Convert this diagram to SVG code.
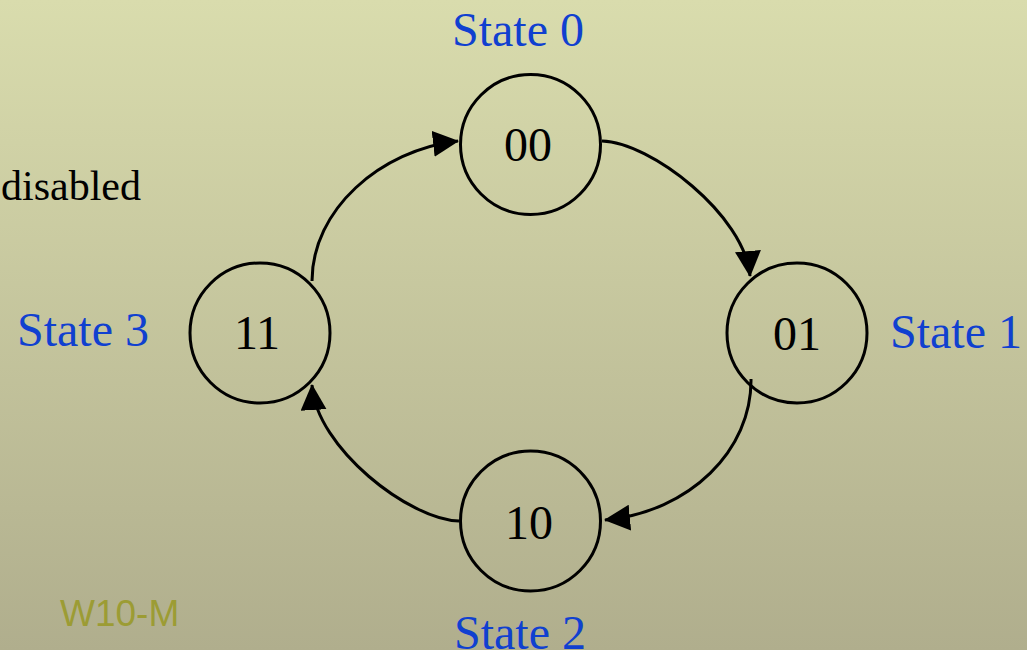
<svg xmlns="http://www.w3.org/2000/svg" width="1027" height="650" viewBox="0 0 1027 650">
  <defs>
    <linearGradient id="bg" x1="0" y1="0" x2="0" y2="1">
      <stop offset="0" stop-color="#d9dcad"/>
      <stop offset="1" stop-color="#b0ae8d"/>
    </linearGradient>
    <marker id="arrow" markerUnits="userSpaceOnUse" markerWidth="26" markerHeight="26" viewBox="0 0 26 26" refX="25" refY="13" orient="auto">
      <path d="M0,0 L26,13 L0,26 Z" fill="#000"/>
    </marker>
    <style>
      .state { fill: none; stroke: #000; stroke-width: 3; }
      .code { font-family: "Liberation Serif", "Times New Roman", serif; font-size: 48px; fill: #000; text-anchor: middle; }
      .name { font-family: "Liberation Serif", "Times New Roman", serif; font-size: 48px; fill: #1040d0; text-anchor: middle; }
      .edge { fill: none; stroke: #000; stroke-width: 3; marker-end: url(#arrow); }
    </style>
  </defs>

  <rect x="0" y="0" width="1027" height="650" fill="url(#bg)"/>

  <text x="1" y="200" font-family="Liberation Serif, Times New Roman, serif" font-size="42" fill="#000">disabled</text>
  <text x="60" y="626" font-family="Liberation Sans, Arial, sans-serif" font-size="37" fill="#9c9c34">W10-M</text>

  <!-- transitions -->
  <g id="connectors">
    <path class="edge" d="M602,141 C650,142 745,215 750,276"/>
    <path class="edge" d="M751,379 C752,450 690,512 605,520"/>
    <path class="edge" d="M459,521 C410,520 316,448 312,385"/>
    <path class="edge" d="M312,281 C312,210 380,150 458,141"/>
  </g>

  <g id="state0">
    <circle class="state" cx="530.5" cy="144.5" r="70"/>
    <text class="code" x="528" y="161">00</text>
    <text class="name" x="518" y="46">State 0</text>
  </g>
  <g id="state1">
    <circle class="state" cx="797" cy="333" r="70"/>
    <text class="code" x="797" y="350">01</text>
    <text class="name" x="956" y="348">State 1</text>
  </g>
  <g id="state2">
    <circle class="state" cx="530.5" cy="521" r="70"/>
    <text class="code" x="529" y="539">10</text>
    <text class="name" x="520" y="649">State 2</text>
  </g>
  <g id="state3">
    <circle class="state" cx="260" cy="333" r="70"/>
    <text class="code" x="257" y="349">11</text>
    <text class="name" x="83" y="346">State 3</text>
  </g>
</svg>
